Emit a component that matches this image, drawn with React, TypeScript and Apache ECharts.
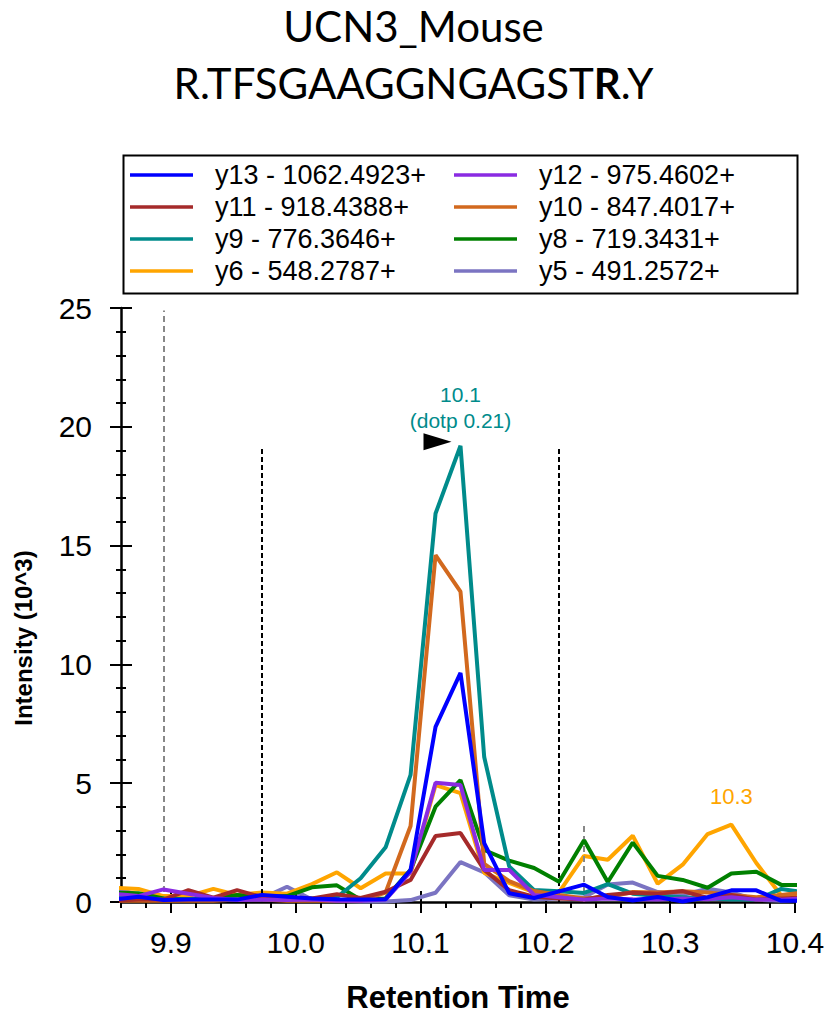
import React, { useEffect, useRef } from 'react';
import * as echarts from 'echarts';

// Retention times (min) of the sampled scans
const times = [9.854, 9.874, 9.894, 9.914, 9.934, 9.953, 9.973, 9.993, 10.013, 10.033, 10.052, 10.072, 10.092, 10.112, 10.132, 10.151, 10.171, 10.191, 10.211, 10.231, 10.25, 10.27, 10.29, 10.31, 10.33, 10.349, 10.369, 10.389, 10.409];

// Intensities (10^3)
const y13 = [0.1, 0.22, 0.08, 0.1, 0.1, 0.1, 0.3, 0.22, 0.15, 0.12, 0.1, 0.12, 1.35, 7.37, 9.64, 2.48, 0.37, 0.17, 0.45, 0.73, 0.21, 0.06, 0.21, 0.02, 0.2, 0.49, 0.49, 0.05, 0.05];
const y12 = [0.35, 0.25, 0.53, 0.35, 0.17, 0.08, 0.1, 0.08, 0.1, 0.05, 0.05, 0.1, 1.27, 5.02, 4.92, 1.35, 1.35, 0.3, 0.2, 0.1, 0.15, 0.12, 0.1, 0.15, 0.12, 0.2, 0.1, 0.1, 0.15];
const y11 = [0.05, 0.1, 0.1, 0.5, 0.18, 0.5, 0.2, 0.2, 0.15, 0.33, 0.17, 0.43, 0.93, 2.78, 2.9, 1.35, 0.5, 0.22, 0.15, 0.1, 0.3, 0.39, 0.35, 0.46, 0.17, 0.3, 0.1, 0.15, 0.2];
const y10 = [0.05, 0.05, 0.05, 0.05, 0.05, 0.1, 0.1, 0.05, 0.05, 0.05, 0.05, 0.4, 3.2, 14.6, 13.06, 1.6, 0.88, 0.46, 0.3, 0.15, 0.2, 0.42, 0.4, 0.45, 0.4, 0.3, 0.2, 0.3, 0.4];
const y9 = [0.2, 0.2, 0.1, 0.1, 0.1, 0.1, 0.1, 0.1, 0.15, 0.2, 1.0, 2.3, 5.35, 16.35, 19.2, 6.1, 1.5, 0.5, 0.45, 0.38, 0.75, 0.35, 0.25, 0.2, 0.15, 0.1, 0.1, 0.55, 0.4];
const y8 = [0.4, 0.37, 0.15, 0.12, 0.15, 0.3, 0.22, 0.25, 0.62, 0.7, 0.1, 0.15, 1.35, 4.01, 5.13, 2.19, 1.74, 1.43, 0.85, 2.6, 0.84, 2.5, 1.1, 0.93, 0.6, 1.2, 1.27, 0.72, 0.72];
const y6 = [0.6, 0.55, 0.25, 0.25, 0.55, 0.3, 0.4, 0.35, 0.75, 1.25, 0.58, 1.2, 1.2, 4.92, 4.58, 1.23, 0.8, 0.4, 0.42, 1.94, 1.78, 2.79, 0.77, 1.57, 2.86, 3.26, 1.64, 0.27, 0.4];
const y5 = [0.6, 0.3, 0.15, 0.1, 0.1, 0.15, 0.15, 0.64, 0.1, 0.05, 0.02, 0.02, 0.08, 0.39, 1.68, 1.25, 0.28, 0.1, 0.15, 0.2, 0.74, 0.82, 0.42, 0.3, 0.56, 0.4, 0.1, 0.05, 0.1];

const ionNames = ['y13 - 1062.4923+', 'y12 - 975.4602+', 'y11 - 918.4388+', 'y10 - 847.4017+', 'y9 - 776.3646+', 'y8 - 719.3431+', 'y6 - 548.2787+', 'y5 - 491.2572+'];
const ionColors = ['#0000FF', '#8A2BE2', '#A52A2A', '#D2691E', '#008B8B', '#008000', '#FFA500', '#7B74C2'];
const ionData = [y13, y12, y11, y10, y9, y8, y6, y5];

const xTicks = [9.9, 10.0, 10.1, 10.2, 10.3, 10.4];
const peakBounds = [9.973, 10.211];
const peakBoundTop = 19.15;
const otherBounds = [9.894, 10.231];
const otherBoundTop = [24.9, 3.2];
const peakLabel = '10.1\n(dotp 0.21)';
const sideLabel = '10.3';

export default function App() {
  const ref = useRef<HTMLDivElement>(null);
  useEffect(() => {
    const chart = echarts.init(ref.current!, null, { renderer: 'svg' });
    const font = "'Liberation Sans', Arial, sans-serif";
    const black = '#000';
    const tickStyle = { color: black, width: 2 };

    const series: any[] = ionNames.map((name, k) => ({
      name,
      type: 'line',
      data: times.map((t, i) => [t, ionData[k][i]]),
      showSymbol: false,
      symbol: 'none',
      clip: true,
      lineStyle: { color: ionColors[k], width: 4 },
      itemStyle: { color: ionColors[k] },
      z: 10 - k,
    }));

    const teal = series[4];
    teal.markLine = {
      silent: true,
      symbol: ['none', 'none'],
      label: { show: false },
      data: [
        [{ coord: [otherBounds[0], 0], lineStyle: { color: '#888', width: 2, type: [6, 4] } }, { coord: [otherBounds[0], otherBoundTop[0]] }],
        [{ coord: [peakBounds[0], 0], lineStyle: { color: '#000', width: 2, type: [5, 3] } }, { coord: [peakBounds[0], peakBoundTop] }],
        [{ coord: [peakBounds[1], 0], lineStyle: { color: '#000', width: 2, type: [5, 3] } }, { coord: [peakBounds[1], peakBoundTop] }],
        [{ coord: [otherBounds[1], 0], lineStyle: { color: '#888', width: 2, type: [6, 4] } }, { coord: [otherBounds[1], otherBoundTop[1]] }],
      ],
    };
    teal.markPoint = {
      silent: true,
      data: [
        {
          coord: [times[14], y9[14]],
          symbol: 'path://M0,0L28,8.5L0,17Z',
          symbolSize: [28, 17],
          symbolOffset: [-23, -4],
          itemStyle: { color: '#000' },
          label: { show: false },
        },
        {
          coord: [times[14], y9[14]],
          symbol: 'rect',
          symbolSize: 0.01,
          itemStyle: { color: 'transparent' },
          label: { show: true, formatter: peakLabel, position: 'inside', offset: [0, -38], color: '#008B8B', fontSize: 21, lineHeight: 26, fontFamily: font },
        },
      ],
    };
    const orange = series[6];
    orange.markPoint = {
      silent: true,
      data: [
        {
          coord: [times[25], y6[25]],
          symbol: 'rect',
          symbolSize: 0.01,
          itemStyle: { color: 'transparent' },
          label: { show: true, formatter: sideLabel, position: 'inside', offset: [0, -28], color: '#FFA500', fontSize: 22, fontFamily: font },
        },
      ],
    };
    series.reverse();

    const isMajor = (v: number) => Math.abs(v * 10 - Math.round(v * 10)) < 1e-6;
    const legendCommon = {
      orient: 'vertical',
      top: 159,
      padding: 0,
      itemGap: 0,
      itemWidth: 63,
      itemHeight: 3.5,
      icon: 'rect',
      selectedMode: false,
      textStyle: { fontSize: 27, fontFamily: font, color: black, lineHeight: 32, padding: [0, 0, 0, 17] },
    };

    chart.setOption({
      animation: false,
      backgroundColor: '#fff',
      title: {
        text: '{a|UCN3_Mouse}\n{c|R.TFSGAAGGNGAGST}{d|R}{c|.Y}',
        left: 'center',
        top: 5,
        padding: [0, 14, 0, 0],
        textStyle: {
          fontWeight: 'normal',
          rich: {
            a: { fontSize: 42, fontFamily: 'Lato', fontWeight: 'normal', color: black, lineHeight: 42 },
            c: { fontSize: 42, fontFamily: 'Lato', fontWeight: 'normal', color: black, lineHeight: 72 },
            d: { fontSize: 42, fontFamily: 'Lato', fontWeight: 'bold', color: black, lineHeight: 72 },
          },
        },
      },
      legend: [
        { ...legendCommon, left: 130, data: [ionNames[0], ionNames[2], ionNames[4], ionNames[6]] },
        { ...legendCommon, left: 454, data: [ionNames[1], ionNames[3], ionNames[5], ionNames[7]] },
      ],
      graphic: [
        { type: 'rect', left: 121, top: 153, shape: { x: 0, y: 0, width: 674, height: 138 }, style: { fill: 'none', stroke: black, lineWidth: 2 }, silent: true },
      ],
      grid: { left: 121, right: 32, top: 308, bottom: 111, containLabel: false, outerBoundsMode: 'none' },
      xAxis: [
        {
          type: 'value', min: 9.86, max: 10.4, interval: 0.02, position: 'bottom',
          axisLine: { show: true, onZero: false, lineStyle: { color: black, width: 2.5 } },
          axisTick: { show: true, length: 6, lineStyle: tickStyle },
          axisLabel: { formatter: (v: number) => (isMajor(v) ? v.toFixed(1) : ''), fontSize: 30, color: black, fontFamily: font, margin: 25 },
          splitLine: { show: false },
          name: 'Retention Time', nameLocation: 'middle', nameGap: 82,
          nameTextStyle: { fontSize: 31, lineHeight: 26, fontWeight: 'bold', color: black, fontFamily: font },
        },
        {
          type: 'value', min: 9.86, max: 10.4, position: 'bottom',
          axisLine: { show: false, onZero: false },
          axisTick: { show: true, length: 11, customValues: xTicks, lineStyle: tickStyle },
          axisLabel: { show: false }, splitLine: { show: false },
        },
        {
          type: 'value', min: 9.86, max: 10.4, position: 'bottom',
          axisLine: { show: false, onZero: false },
          axisTick: { show: true, inside: true, length: 11, customValues: xTicks, lineStyle: tickStyle },
          axisLabel: { show: false }, splitLine: { show: false },
        },
      ],
      yAxis: [
        {
          type: 'value', min: 0, max: 25, interval: 5, position: 'left',
          axisLine: { show: true, onZero: false, lineStyle: { color: black, width: 2.5 } },
          axisTick: { show: true, length: 11, lineStyle: tickStyle },
          minorTick: { show: true, splitNumber: 5, length: 5, lineStyle: tickStyle },
          axisLabel: { fontSize: 30, color: black, fontFamily: font, margin: 29 },
          splitLine: { show: false }, minorSplitLine: { show: false },
          name: 'Intensity (10^3)', nameLocation: 'middle', nameGap: 86,
          nameTextStyle: { fontSize: 24, fontWeight: 'bold', color: black, fontFamily: font, padding: [0, 66, 0, 0] },
        },
        {
          type: 'value', min: 0, max: 25, interval: 5, position: 'left',
          axisLine: { show: false, onZero: false },
          axisTick: { show: true, inside: true, length: 11, lineStyle: tickStyle },
          minorTick: { show: true, splitNumber: 5, length: 5, lineStyle: tickStyle },
          axisLabel: { show: false }, splitLine: { show: false }, minorSplitLine: { show: false },
        },
      ],
      series,
    });
    return () => chart.dispose();
  }, []);
  return <div ref={ref} style={{ position: 'fixed', left: 0, top: 0, width: 827, height: 1013, background: '#fff' }} />;
}
